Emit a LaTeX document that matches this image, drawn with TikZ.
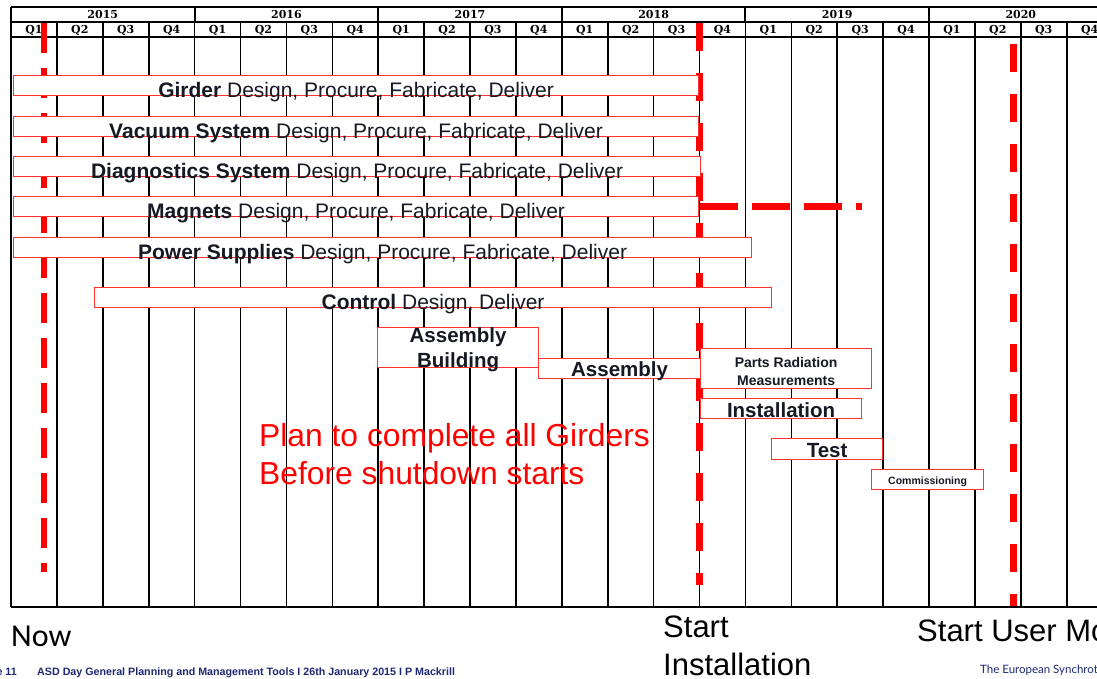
\documentclass[tikz,border=0pt]{standalone}
\usepackage{fontspec}
\setmainfont{Liberation Sans}
\newfontfamily\hdrfont{DejaVu Serif}
\newfontfamily\nowfont{Carlito}
\newfontfamily\logofont{Lato}
\definecolor{barred}{RGB}{255,50,50}
\definecolor{ink}{RGB}{22,24,36}
\definecolor{navy}{RGB}{30,40,115}

\begin{document}
\begin{tikzpicture}[x=1pt,y=-1pt,
  bar/.style={draw=barred, fill=white, line width=1.2pt, inner sep=0pt, anchor=north west},
  barlbl/.style={text=ink, inner sep=0pt, anchor=base, font=\fontsize{21}{21}\selectfont},
  tag/.style={text=ink, inner sep=0pt, anchor=base, font=\bfseries\fontsize{20.5}{20.5}\selectfont},
  milestone/.style={red, line width=7pt, dash pattern=on 28pt off 22pt},
  hdr/.style={inner sep=0pt, font=\hdrfont\bfseries\fontsize{11}{11}\selectfont},
  big/.style={inner sep=0pt, anchor=base west, font=\fontsize{31}{31}\selectfont}]

\useasboundingbox (0,0) rectangle (1097,678);
\clip (0,0) rectangle (1097,678);

% quarters grid
\foreach \i in {0,...,24}
  \draw[line width=1.6pt] (11+45.9*\i,22) -- (11+45.9*\i,607);
\foreach \i in {0,4,...,24}
  \draw[line width=1.9pt] (11+45.9*\i,7) -- (11+45.9*\i,22);
\foreach \y in {7,22,37,607}
  \draw[line width=1.4pt] (11,\y) -- (1120,\y);

\foreach \yr [count=\n from 0] in {2015,...,2020} {
  \node[hdr] (yr\n) at (11+183.6*\n+91.8,14.8) {\yr};
  \foreach \q in {1,...,4}
    \node[hdr] (q\n-\q) at (11+183.6*\n+45.9*\q-22.95,30) {Q\q};
}

% milestones
\draw[milestone, line width=6pt, dash pattern=on 30pt off 15pt] (44,23) -- (44,572);
\draw[milestone] (699,23) -- (699,585);
\draw[milestone, dash pattern=on 38pt off 14pt] (700,206) -- (862,206);
\draw[milestone] (1013,44) -- (1013,606);

% bars
\node[bar, minimum width=685, minimum height=20] (girder) at (13,75) {};
\node[bar, minimum width=685, minimum height=20] (vacuum) at (13,116) {};
\node[bar, minimum width=687, minimum height=20] (diag) at (13,156) {};
\node[bar, minimum width=685, minimum height=20] (magnets) at (13,196) {};
\node[bar, minimum width=738, minimum height=20] (power) at (13,237) {};
\node[bar, minimum width=677, minimum height=20] (control) at (94,287) {};
\node[bar, minimum width=161, minimum height=40] (asmbldg) at (377,327) {};
\node[bar, minimum width=162, minimum height=20] (asm) at (538,358) {};
\node[bar, minimum width=171, minimum height=40] (parts) at (700,348) {};
\node[bar, minimum width=161, minimum height=20] (install) at (700,398) {};
\node[bar, minimum width=111, minimum height=21] (test) at (771,438) {};
\node[bar, minimum width=112, minimum height=20] (comm) at (871,469) {};

\node[barlbl] (girder-t) at ([yshift=-1.5pt]girder.south) {\textbf{Girder} Design, Procure, Fabricate, Deliver};
\node[barlbl] (vacuum-t) at ([yshift=-1.5pt]vacuum.south) {\textbf{Vacuum System} Design, Procure, Fabricate, Deliver};
\node[barlbl] (diag-t) at ([yshift=-1.5pt]diag.south) {\textbf{Diagnostics System} Design, Procure, Fabricate, Deliver};
\node[barlbl] (magnets-t) at ([yshift=-1.5pt]magnets.south) {\textbf{Magnets} Design, Procure, Fabricate, Deliver};
\node[barlbl] (power-t) at ([yshift=-1.5pt]power.south) {\textbf{Power Supplies} Design, Procure, Fabricate, Deliver};
\node[barlbl] (control-t) at ([yshift=-1.5pt]control.south) {\textbf{Control} Design, Deliver};

\node[tag, anchor=center, align=center, font=\bfseries\fontsize{20.5}{25}\selectfont] (asmbldg-t) at ([yshift=-2pt]asmbldg.center) {Assembly\\Building};
\node[tag] (asm-t) at ([yshift=3pt]asm.south) {Assembly};
\node[tag, anchor=center, align=center, font=\bfseries\fontsize{14}{18}\selectfont] (parts-t) at ([yshift=-3pt]parts.center) {Parts Radiation\\Measurements};
\node[tag] (install-t) at ([yshift=2pt]install.south) {Installation};
\node[tag] (test-t) at ([yshift=3pt]test.south) {Test};
\node[tag, font=\bfseries\fontsize{10.5}{10.5}\selectfont] (comm-t) at ([yshift=6pt]comm.south) {Commissioning};

\node[big, red, font=\fontsize{31.8}{31.8}\selectfont] (plan1) at (259,446) {Plan to complete all Girders};
\node[big, red, font=\fontsize{31.8}{31.8}\selectfont] (plan2) at (259,484) {Before shutdown starts};

% bottom
\node[inner sep=0pt, anchor=base west, font=\nowfont\fontsize{32}{32}\selectfont] (now) at (11,646) {Now};
\node[big] (start) at (663,637) {Start};
\node[big] (inst) at (663,675) {Installation};
\node[big] (user) at (917,641) {Start User Mode};

\node[inner sep=0pt, anchor=base east, text=navy, font=\bfseries\fontsize{10.7}{10.7}\selectfont] (page) at (17,675) {Page 11};
\node[inner sep=0pt, anchor=base west, text=navy, font=\bfseries\fontsize{10.7}{10.7}\selectfont] (foot) at (37,675) {ASD Day General Planning and Management Tools I 26th January 2015 I P Mackrill};
\node[inner sep=0pt, anchor=base west, text=navy, font=\logofont\fontsize{11.5}{11.5}\selectfont] (esrf) at (980,673) {The European Synchrotron};
\end{tikzpicture}
\end{document}
